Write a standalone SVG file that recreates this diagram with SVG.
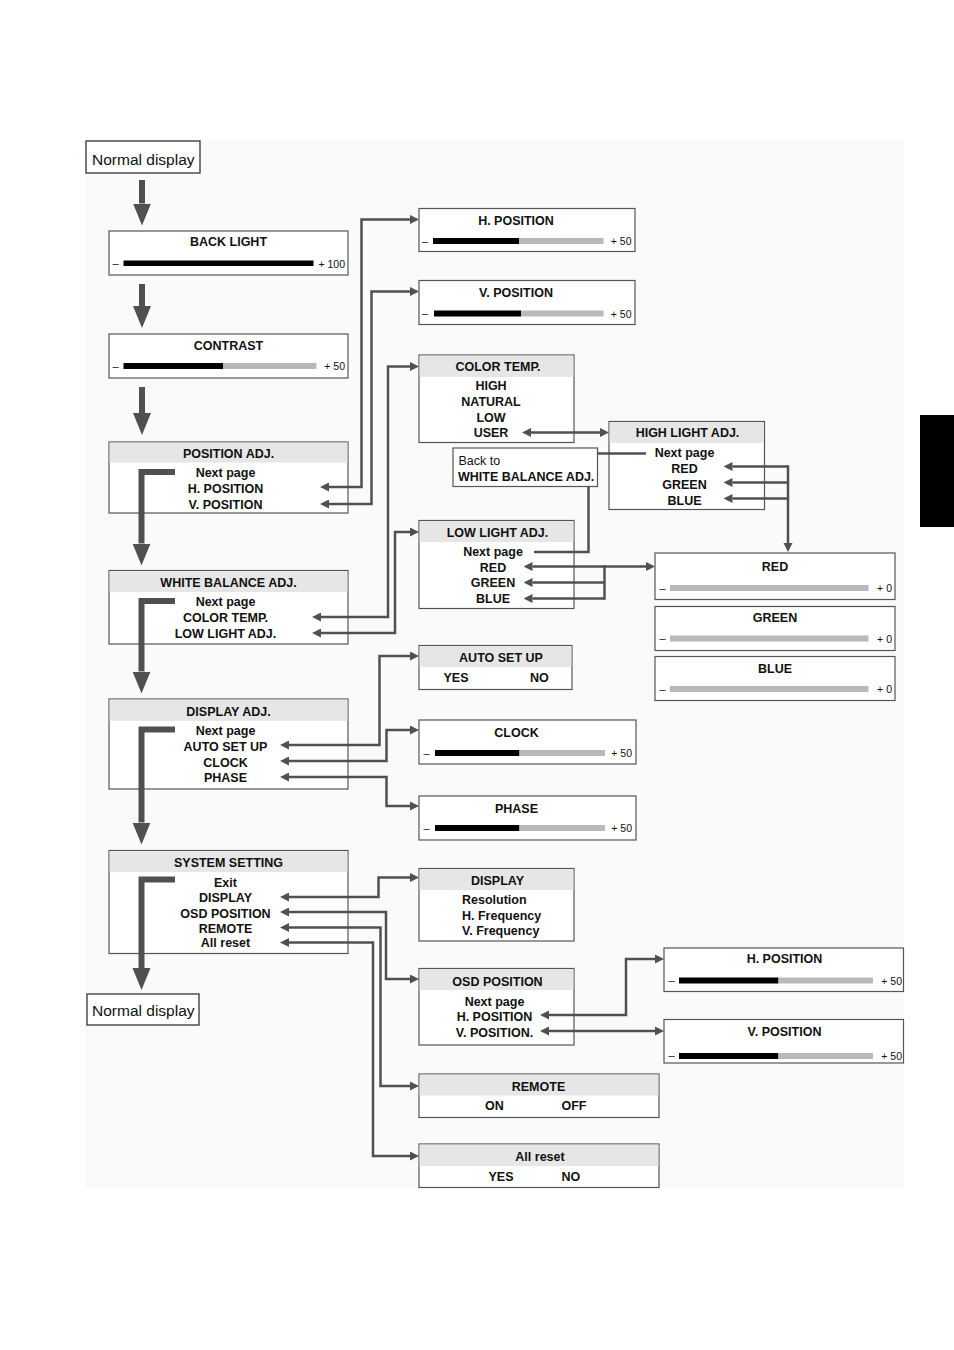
<svg xmlns="http://www.w3.org/2000/svg" width="954" height="1350" viewBox="0 0 954 1350">
<style>
text{font-family:"Liberation Sans",Arial,Helvetica,sans-serif;fill:#111}
.t{font-size:12.5px;font-weight:bold;text-anchor:middle}
.tl{font-size:12.5px;font-weight:bold}
.nd{font-size:15.5px;text-anchor:middle}
.r{font-size:12.5px}
.s{font-size:11px}
.se{font-size:10.5px;text-anchor:end}
.box{fill:#fff;stroke:#555;stroke-width:1.2}
.ndb{fill:#fff;stroke:#333;stroke-width:1.3}
.hdr{fill:#e6e6e6}
.blk{fill:#000}
.gry{fill:#b9b9b9}
.thick{fill:none;stroke:#505050;stroke-width:6;stroke-linejoin:miter}
.conn{fill:none;stroke:#505050;stroke-width:2.5;stroke-linejoin:miter}
</style>
<defs>
<marker id="ahe" markerUnits="userSpaceOnUse" markerWidth="10" markerHeight="10" refX="0" refY="4.5" orient="auto">
<path d="M0,0 L9,4.5 L0,9 z" fill="#505050"/>
</marker>
<marker id="ahs" markerUnits="userSpaceOnUse" markerWidth="10" markerHeight="10" refX="9" refY="4.5" orient="auto">
<path d="M9,0 L0,4.5 L9,9 z" fill="#505050"/>
</marker>
<marker id="big" markerUnits="userSpaceOnUse" markerWidth="23" markerHeight="19" refX="0" refY="9" orient="auto">
<path d="M0,0 L22,9 L0,18 z" fill="#505050"/>
</marker>
</defs>
<rect x="85" y="140" width="819" height="1048" fill="#fafafa"/>
<rect x="920" y="415" width="34" height="112" fill="#000"/>

<g id="normal-display-1">
<rect class="ndb" x="86" y="141" width="114" height="32"/>
<text class="nd" x="143.3" y="164.5">Normal display</text>
</g>

<g id="back-light">
<rect class="box" x="109" y="231" width="239" height="44"/>
<text class="t" x="228.5" y="246">BACK LIGHT</text>
<text class="s" x="112.5" y="267">–</text>
<rect class="blk" x="123.5" y="260.5" width="190" height="5.5"/>
<text class="se" x="345" y="267.5">+ 100</text>
</g>

<g id="contrast">
<rect class="box" x="109" y="334" width="239" height="44"/>
<text class="t" x="228.5" y="350">CONTRAST</text>
<text class="s" x="112.5" y="370">–</text>
<rect class="blk" x="123.5" y="363" width="99.5" height="6"/>
<rect class="gry" x="223" y="363" width="93.5" height="6"/>
<text class="se" x="345" y="370">+  50</text>
</g>

<g id="position-adj">
<rect class="box" x="109" y="442" width="239" height="71"/>
<rect class="hdr" x="109.6" y="442.6" width="237.8" height="20"/>
<text class="t" x="228.5" y="458">POSITION ADJ.</text>
<text class="t" x="225.5" y="477">Next page</text>
<text class="t" x="225.5" y="493">H. POSITION</text>
<text class="t" x="225.5" y="509">V. POSITION</text>
</g>

<g id="white-balance-adj">
<rect class="box" x="109" y="570.5" width="239" height="73.5"/>
<rect class="hdr" x="109.6" y="571.1" width="237.8" height="21"/>
<text class="t" x="228.5" y="586.5">WHITE BALANCE ADJ.</text>
<text class="t" x="225.5" y="605.5">Next page</text>
<text class="t" x="225.5" y="621.5">COLOR TEMP.</text>
<text class="t" x="225.5" y="637.5">LOW LIGHT ADJ.</text>
</g>

<g id="display-adj">
<rect class="box" x="109" y="699" width="239" height="90"/>
<rect class="hdr" x="109.6" y="699.6" width="237.8" height="21.4"/>
<text class="t" x="228.5" y="715.5">DISPLAY ADJ.</text>
<text class="t" x="225.5" y="735">Next page</text>
<text class="t" x="225.5" y="750.5">AUTO SET UP</text>
<text class="t" x="225.5" y="766.5">CLOCK</text>
<text class="t" x="225.5" y="782">PHASE</text>
</g>

<g id="system-setting">
<rect class="box" x="109" y="850.5" width="239" height="103"/>
<rect class="hdr" x="109.6" y="851.1" width="237.8" height="21"/>
<text class="t" x="228.5" y="866.5">SYSTEM SETTING</text>
<text class="t" x="225.5" y="886.5">Exit</text>
<text class="t" x="225.5" y="902">DISPLAY</text>
<text class="t" x="225.5" y="917.5">OSD POSITION</text>
<text class="t" x="225.5" y="932.5">REMOTE</text>
<text class="t" x="225.5" y="946.5">All reset</text>
</g>

<g id="normal-display-2">
<rect class="ndb" x="87" y="994" width="112" height="31"/>
<text class="nd" x="143.3" y="1016">Normal display</text>
</g>

<g id="h-position-1">
<rect class="box" x="419" y="208.5" width="216" height="43"/>
<text class="t" x="516" y="225">H. POSITION</text>
<text class="s" x="422" y="244.5">–</text>
<rect class="blk" x="433" y="238" width="86" height="6"/>
<rect class="gry" x="519" y="238" width="84.5" height="6"/>
<text class="se" x="631.5" y="245">+  50</text>
</g>

<g id="v-position-1">
<rect class="box" x="419" y="280.5" width="216" height="44"/>
<text class="t" x="516" y="297">V. POSITION</text>
<text class="s" x="422" y="317">–</text>
<rect class="blk" x="434" y="310.5" width="87" height="6"/>
<rect class="gry" x="521" y="310.5" width="82.5" height="6"/>
<text class="se" x="631.5" y="317.5">+  50</text>
</g>

<g id="color-temp">
<rect class="box" x="419" y="355" width="155" height="87.5"/>
<rect class="hdr" x="419.6" y="355.6" width="153.8" height="21.4"/>
<text class="t" x="498" y="371">COLOR TEMP.</text>
<text class="t" x="491" y="390">HIGH</text>
<text class="t" x="491" y="406">NATURAL</text>
<text class="t" x="491" y="421.5">LOW</text>
<text class="t" x="491" y="437">USER</text>
</g>

<g id="back-to-white-balance">
<rect class="box" x="453" y="448" width="144.5" height="38.5"/>
<text class="r" x="458.5" y="465">Back to</text>
<text class="tl" x="458" y="480.5">WHITE BALANCE ADJ.</text>
</g>

<g id="high-light-adj">
<rect class="box" x="609" y="421.5" width="155.5" height="88"/>
<rect class="hdr" x="609.6" y="422.1" width="154.3" height="20.9"/>
<text class="t" x="687.5" y="437">HIGH LIGHT ADJ.</text>
<text class="t" x="684.5" y="457">Next page</text>
<text class="t" x="684.5" y="473">RED</text>
<text class="t" x="684.5" y="489">GREEN</text>
<text class="t" x="684.5" y="504.5">BLUE</text>
</g>

<g id="low-light-adj">
<rect class="box" x="419" y="520.5" width="155" height="88"/>
<rect class="hdr" x="419.6" y="521.1" width="153.8" height="20.9"/>
<text class="t" x="497.5" y="536.5">LOW LIGHT ADJ.</text>
<text class="t" x="493" y="555.5">Next page</text>
<text class="t" x="493" y="571.5">RED</text>
<text class="t" x="493" y="587">GREEN</text>
<text class="t" x="493" y="603">BLUE</text>
</g>

<g id="red">
<rect class="box" x="655" y="553" width="240" height="46.5"/>
<text class="t" x="775" y="571">RED</text>
<text class="s" x="659.5" y="591.5">–</text>
<rect class="gry" x="670" y="585" width="198.5" height="6"/>
<text class="se" x="892" y="592">+  0</text>
</g>

<g id="green">
<rect class="box" x="655" y="606.5" width="240" height="44"/>
<text class="t" x="775" y="622">GREEN</text>
<text class="s" x="659.5" y="642">–</text>
<rect class="gry" x="670" y="635.5" width="198.5" height="6"/>
<text class="se" x="892" y="642.5">+  0</text>
</g>

<g id="blue">
<rect class="box" x="655" y="656.5" width="240" height="44"/>
<text class="t" x="775" y="672.5">BLUE</text>
<text class="s" x="659.5" y="692.5">–</text>
<rect class="gry" x="670" y="686" width="198.5" height="6"/>
<text class="se" x="892" y="693">+  0</text>
</g>

<g id="auto-set-up">
<rect class="box" x="419" y="645.5" width="153" height="44"/>
<rect class="hdr" x="419.6" y="646.1" width="151.8" height="20.9"/>
<text class="t" x="501" y="662">AUTO SET UP</text>
<text class="tl" x="443.5" y="681.5">YES</text>
<text class="tl" x="530" y="681.5">NO</text>
</g>

<g id="clock">
<rect class="box" x="419" y="720" width="217" height="44"/>
<text class="t" x="516.5" y="737">CLOCK</text>
<text class="s" x="423.5" y="756.5">–</text>
<rect class="blk" x="435" y="750" width="84.5" height="6"/>
<rect class="gry" x="519.5" y="750" width="85.5" height="6"/>
<text class="se" x="632" y="757">+  50</text>
</g>

<g id="phase">
<rect class="box" x="419" y="796" width="217" height="44"/>
<text class="t" x="516.5" y="812.5">PHASE</text>
<text class="s" x="423.5" y="831.5">–</text>
<rect class="blk" x="435" y="825" width="84.5" height="6"/>
<rect class="gry" x="519.5" y="825" width="85.5" height="6"/>
<text class="se" x="632" y="832">+  50</text>
</g>

<g id="display">
<rect class="box" x="419" y="868.5" width="155" height="72.5"/>
<rect class="hdr" x="419.6" y="869.1" width="153.8" height="20.9"/>
<text class="t" x="497.5" y="885">DISPLAY</text>
<text class="tl" x="462" y="904">Resolution</text>
<text class="tl" x="462" y="919.5">H. Frequency</text>
<text class="tl" x="462" y="935">V. Frequency</text>
</g>

<g id="osd-position">
<rect class="box" x="419" y="968.5" width="155" height="76.5"/>
<rect class="hdr" x="419.6" y="969.1" width="153.8" height="20.9"/>
<text class="t" x="497.5" y="986">OSD POSITION</text>
<text class="t" x="494.5" y="1005.5">Next page</text>
<text class="t" x="494.5" y="1021">H. POSITION</text>
<text class="t" x="494.5" y="1036.5">V. POSITION.</text>
</g>

<g id="h-position-2">
<rect class="box" x="664" y="948" width="239.5" height="43.5"/>
<text class="t" x="784.5" y="963">H. POSITION</text>
<text class="s" x="668.5" y="983.5">–</text>
<rect class="blk" x="679" y="977.5" width="99.5" height="6"/>
<rect class="gry" x="778.5" y="977.5" width="94.5" height="6"/>
<text class="se" x="902" y="984.5">+  50</text>
</g>

<g id="v-position-2">
<rect class="box" x="664" y="1019.5" width="239.5" height="43.5"/>
<text class="t" x="784.5" y="1036">V. POSITION</text>
<text class="s" x="668.5" y="1059">–</text>
<rect class="blk" x="679" y="1053" width="99.5" height="6"/>
<rect class="gry" x="778.5" y="1053" width="94.5" height="6"/>
<text class="se" x="902" y="1060">+  50</text>
</g>

<g id="remote">
<rect class="box" x="419" y="1074" width="240" height="43.5"/>
<rect class="hdr" x="419.6" y="1074.6" width="238.8" height="20.9"/>
<text class="t" x="538.5" y="1090.5">REMOTE</text>
<text class="tl" x="485" y="1110">ON</text>
<text class="tl" x="561.5" y="1110">OFF</text>
</g>

<g id="all-reset">
<rect class="box" x="419" y="1144" width="240" height="43.5"/>
<rect class="hdr" x="419.6" y="1144.6" width="238.8" height="21.4"/>
<text class="t" x="540" y="1160.5">All reset</text>
<text class="tl" x="488.5" y="1180.5">YES</text>
<text class="tl" x="561.5" y="1180.5">NO</text>
</g>

<g id="connectors">
<path class="thick" d="M142,180 V203.5" marker-end="url(#big)"/>
<path class="thick" d="M142,284 V306" marker-end="url(#big)"/>
<path class="thick" d="M142,387 V413" marker-end="url(#big)"/>
<path class="thick" d="M175,472 H141.5 V543.5" marker-end="url(#big)"/>
<path class="thick" d="M175,601 H141.5 V671.5" marker-end="url(#big)"/>
<path class="thick" d="M175,729.5 H141.5 V822.5" marker-end="url(#big)"/>
<path class="thick" d="M175,879.5 H141.5 V968" marker-end="url(#big)"/>

<path class="conn" d="M329,487 H361.5 V219.5 H410" marker-start="url(#ahs)" marker-end="url(#ahe)"/>
<path class="conn" d="M329,504 H371.5 V291.5 H410" marker-start="url(#ahs)" marker-end="url(#ahe)"/>
<path class="conn" d="M321,617 H388 V366.5 H410" marker-start="url(#ahs)" marker-end="url(#ahe)"/>
<path class="conn" d="M321,633 H395 V532 H410" marker-start="url(#ahs)" marker-end="url(#ahe)"/>
<path class="conn" d="M289,745 H379.5 V656 H410" marker-start="url(#ahs)" marker-end="url(#ahe)"/>
<path class="conn" d="M289,761 H386.5 V730 H410" marker-start="url(#ahs)" marker-end="url(#ahe)"/>
<path class="conn" d="M289,777 H386.5 V806 H410" marker-start="url(#ahs)" marker-end="url(#ahe)"/>
<path class="conn" d="M289,897 H378.5 V877.5 H410" marker-start="url(#ahs)" marker-end="url(#ahe)"/>
<path class="conn" d="M289,912 H386 V979 H410" marker-start="url(#ahs)" marker-end="url(#ahe)"/>
<path class="conn" d="M289,927.5 H380.5 V1086 H410" marker-start="url(#ahs)" marker-end="url(#ahe)"/>
<path class="conn" d="M289,942.5 H373 V1156 H410" marker-start="url(#ahs)" marker-end="url(#ahe)"/>

<path class="conn" d="M531,432.5 H600" marker-start="url(#ahs)" marker-end="url(#ahe)"/>
<path class="conn" d="M597,453.5 H646"/>
<path class="conn" d="M534,552 H588.5 V486.5"/>

<path class="conn" d="M732.5,466.5 H788" marker-start="url(#ahs)"/>
<path class="conn" d="M732.5,482.5 H788" marker-start="url(#ahs)"/>
<path class="conn" d="M732.5,498.5 H788" marker-start="url(#ahs)"/>
<path class="conn" d="M788,465.3 V543" marker-end="url(#ahe)"/>

<path class="conn" d="M532.5,566.5 H604.5" marker-start="url(#ahs)"/>
<path class="conn" d="M532.5,582.5 H604.5" marker-start="url(#ahs)"/>
<path class="conn" d="M532.5,598.5 H604.5" marker-start="url(#ahs)"/>
<path class="conn" d="M604.5,565.3 V599.7"/>
<path class="conn" d="M604.5,566.5 H646" marker-end="url(#ahe)"/>

<path class="conn" d="M549,1015 H626 V959 H655" marker-start="url(#ahs)" marker-end="url(#ahe)"/>
<path class="conn" d="M549,1031 H655" marker-start="url(#ahs)" marker-end="url(#ahe)"/>
</g>
</svg>
